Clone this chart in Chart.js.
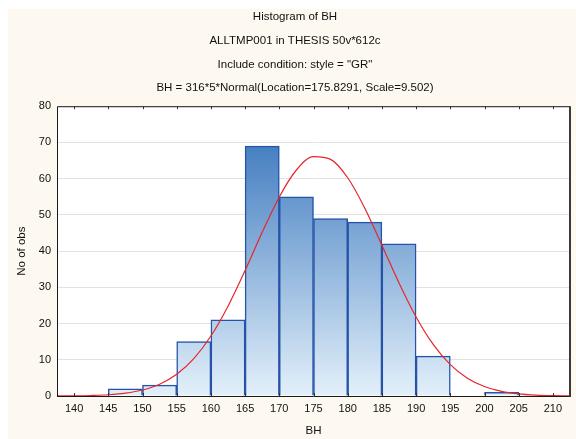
<!DOCTYPE html>
<html>
<head>
<meta charset="utf-8">
<script src="https://cdn.jsdelivr.net/npm/chart.js@4/dist/chart.umd.min.js"></script>
<style>
  html, body { margin: 0; padding: 0; background: #ffffff; }
  #wrap { width: 576px; height: 439px; }
</style>
</head>
<body>
<div id="wrap"><canvas id="c" width="576" height="439"></canvas></div>
<script>
// ---- data ----
const titleLines = [
  'Histogram of BH',
  'ALLTMP001 in THESIS 50v*612c',
  'Include condition: style = "GR"',
  'BH = 316*5*Normal(Location=175.8291, Scale=9.502)'
];
const binCenters = [147.5, 152.5, 157.5, 162.5, 167.5, 172.5, 177.5, 182.5, 187.5, 192.5, 197.5, 202.5];
const counts     = [2, 3, 15, 21, 69, 55, 49, 48, 42, 11, 0, 1];
const curveX = [137.5, 140, 142.5, 145, 147.5, 150, 152.5, 155, 157.5, 160, 162.5, 165, 167.5, 170, 172.5, 175,
                177.5, 180, 182.5, 185, 187.5, 190, 192.5, 195, 197.5, 200, 202.5, 205, 207.5, 210, 212.5];
const curveY = [0.02, 0.05, 0.14, 0.34, 0.78, 1.65, 3.26, 6.00, 10.32, 16.56, 24.80, 34.65, 45.18, 54.96, 62.39, 66.09,
                65.33, 60.25, 51.85, 41.64, 31.21, 21.82, 14.24, 8.67, 4.93, 2.61, 1.29, 0.60, 0.26, 0.10, 0.04];
const xTickLabels = [140, 145, 150, 155, 160, 165, 170, 175, 180, 185, 190, 195, 200, 205, 210];
const yTickLabels = [0, 10, 20, 30, 40, 50, 60, 70, 80];
const xTitle = 'BH';
const yTitle = 'No of obs';

const FONT = "'Liberation Sans', Arial, sans-serif";

const bgPlugin = {
  id: 'bg',
  afterLayout(chart) {
    if (chart.titleBlock) { chart.titleBlock.left = 20; }
  },
  beforeDraw(chart) {
    const c = chart.ctx, a = chart.chartArea;
    c.save();
    c.fillStyle = '#ffffff';
    c.fillRect(0, 0, chart.width, chart.height);
    c.fillStyle = '#fdf9f0';
    c.fillRect(8, 9, chart.width - 8, chart.height - 9);
    c.fillStyle = '#ffffff';
    c.fillRect(a.left, a.top, a.right - a.left, a.bottom - a.top);
    c.restore();
  },
  afterDraw(chart) {
    const c = chart.ctx, a = chart.chartArea, xs = chart.scales.x;
    c.save();
    c.strokeStyle = '#1a1a1a';
    c.lineWidth = 1;
    c.beginPath();
    c.moveTo(a.left + 0.5, a.bottom + 0.5);
    c.lineTo(a.left + 0.5, a.top + 0.5);
    c.lineTo(a.right, a.top + 0.5);
    c.moveTo(a.left, a.bottom + 0.5);
    c.lineTo(a.right, a.bottom + 0.5);
    c.stroke();
    c.strokeStyle = '#3a3a3a';
    c.lineWidth = 2;
    c.beginPath();
    c.moveTo(a.right, a.top);
    c.lineTo(a.right, a.bottom + 1);
    c.stroke();
    c.strokeStyle = '#333333';
    c.lineWidth = 1;
    c.beginPath();
    xTickLabels.forEach(v => {
      const px = Math.round(xs.getPixelForValue(v)) + 0.5;
      c.moveTo(px, a.top); c.lineTo(px, a.top + 3);
      c.moveTo(px, a.bottom); c.lineTo(px, a.bottom - 3);
    });
    c.stroke();
    c.restore();
  }
};

function barGradient(context) {
  const chart = context.chart;
  const a = chart.chartArea;
  if (!a) return '#7fb0e0';
  const ys = chart.scales.y;
  const g = chart.ctx.createLinearGradient(0, ys.getPixelForValue(80), 0, ys.getPixelForValue(0));
  g.addColorStop(0, '#2d6eb9');
  g.addColorStop(1, '#e3f0fa');
  return g;
}

new Chart(document.getElementById('c'), {
  type: 'bar',
  data: {
    datasets: [
      {
        type: 'line',
        data: curveX.map((x, i) => ({ x: x, y: curveY[i] })),
        borderColor: '#e8252b',
        borderWidth: 1.2,
        pointRadius: 0,
        fill: false,
        cubicInterpolationMode: 'monotone',
        order: 0
      },
      {
        type: 'bar',
        data: binCenters.map((x, i) => ({ x: x, y: counts[i] })),
        backgroundColor: barGradient,
        borderColor: '#2453a8',
        borderWidth: 1.5,
        borderSkipped: 'bottom',
        barPercentage: 1,
        categoryPercentage: 1,
        order: 1
      }
    ]
  },
  options: {
    responsive: false,
    animation: false,
    devicePixelRatio: 1,
    layout: { padding: { left: 0, right: 6, top: 0, bottom: 0 } },
    plugins: {
      legend: { display: false },
      tooltip: { enabled: false },
      title: {
        display: true,
        text: titleLines,
        color: '#111111',
        font: { family: FONT, size: 11.5, weight: 'normal', lineHeight: 2.07 },
        padding: { top: 5, bottom: 6 }
      }
    },
    scales: {
      x: {
        type: 'linear',
        min: 137.5,
        max: 212.5,
        offset: false,
        afterBuildTicks: s => { s.ticks = xTickLabels.map(v => ({ value: v })); },
        afterFit: s => { s.height = 43; },
        grid: { display: false, drawTicks: false },
        border: { display: false },
        ticks: { color: '#111111', font: { family: FONT, size: 11 }, padding: 6, maxRotation: 0, autoSkip: false },
        title: { display: true, text: xTitle, color: '#111111', font: { family: FONT, size: 11.5 }, padding: { top: 0, bottom: 1 } }
      },
      y: {
        type: 'linear',
        min: 0,
        max: 80,
        afterBuildTicks: s => { s.ticks = yTickLabels.map(v => ({ value: v })); },
        afterFit: s => { s.width = 57; },
        grid: { color: '#e2e2e2', lineWidth: 1, drawTicks: false },
        border: { display: false },
        ticks: { color: '#111111', font: { family: FONT, size: 11 }, padding: 6 },
        title: { display: true, text: yTitle, color: '#111111', font: { family: FONT, size: 11.5 }, padding: { top: 15, bottom: 0 } }
      }
    }
  },
  plugins: [bgPlugin]
});
</script>
</body>
</html>
